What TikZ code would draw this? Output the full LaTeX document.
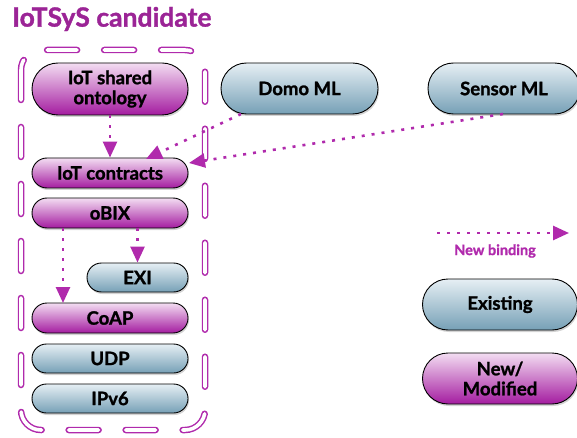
\documentclass[tikz,border=0pt]{standalone}
\usepackage{fontspec}
\setmainfont{Lato}[BoldFeatures={FakeBold=1.3}]
\usetikzlibrary{shapes.misc,shadows,arrows.meta}
\definecolor{pur}{HTML}{B02AAC}
\definecolor{title}{HTML}{9B2496}
\definecolor{ptop}{HTML}{F3DDF2}
\definecolor{pbot}{HTML}{A41CA0}
\definecolor{btop}{HTML}{E6EFF4}
\definecolor{bbot}{HTML}{76A0B6}
\tikzset{
  box/.style={rounded rectangle, draw=black, line width=0.9pt, font=\bfseries\fontsize{18.5}{20}\selectfont,
    align=center, inner sep=0pt, drop shadow={opacity=0.35, shadow xshift=1pt, shadow yshift=-2pt}},
  newbox/.style={box, top color=ptop, bottom color=pbot},
  oldbox/.style={box, top color=btop, bottom color=bbot},
  bind/.style={draw=pur, line width=2.6pt, dash pattern=on 3pt off 7pt,
    -{Triangle[length=16pt,width=14pt]}},
  frame/.style={draw=pur, line width=6.5pt, line cap=round, rounded corners=20pt,
    dash pattern=on 30pt off 27pt},
  frameinner/.style={draw=white, line width=3.6pt, line cap=round, rounded corners=20pt,
    dash pattern=on 30pt off 27pt}
}
\begin{document}
\begin{tikzpicture}[x=1pt,y=-1pt]
\useasboundingbox (0,0) rectangle (577,438);
% frame
\draw[frame] (21,50) rectangle (205,430);
\draw[frameinner] (21,50) rectangle (205,430);
% title
\node[anchor=west, text=title, font=\bfseries\fontsize{26.5}{28}\selectfont, inner sep=0pt] (title) at (12,19) {IoTSyS candidate};
% nodes
\node[newbox, minimum width=156pt, minimum height=52pt] (onto) at (110,89) {IoT shared\\ontology};
\node[oldbox, minimum width=157pt, minimum height=51pt] (domo) at (299.5,88.5) {Domo ML};
\node[oldbox, minimum width=152pt, minimum height=51pt] (sensor) at (504,88.5) {Sensor ML};
\node[newbox, minimum width=156pt, minimum height=30pt] (contracts) at (110,173) {IoT contracts};
\node[newbox, minimum width=156pt, minimum height=30pt] (obix) at (110,213) {oBIX};
\node[oldbox, minimum width=101pt, minimum height=29pt] (exi) at (137.5,277.5) {EXI};
\node[newbox, minimum width=156pt, minimum height=30pt] (coap) at (110,318) {CoAP};
\node[oldbox, minimum width=156pt, minimum height=29pt] (udp) at (110,358.5) {UDP};
\node[oldbox, minimum width=156pt, minimum height=29pt] (ipv6) at (110,398.5) {IPv6};
\node[oldbox, minimum width=155pt, minimum height=51pt] (exist) at (500,304.5) {Existing};
\node[newbox, minimum width=155pt, minimum height=51pt] (newmod) at (500,378.5) {New/\\Modified};
% legend arrow
\coordinate (l1) at (437,233);
\coordinate (l2) at (569,233);
\draw[bind] (l1) -- (l2);
\node[text=pur, font=\fontsize{14.5}{16}\selectfont\bfseries, inner sep=0pt] (lbl) at (495,251) {New binding};
% binding end points
\coordinate (d0) at (241,114);
\coordinate (d1) at (146,159);
\coordinate (s0) at (503,114);
\coordinate (s1) at (189,163);
\coordinate (o0) at (63,228);
\coordinate (o1) at (63,303);
\coordinate (e0) at (137.5,228);
% bindings
\draw[bind] (onto.south) -- (contracts.north);
\draw[bind] (d0) -- (d1);
\draw[bind] (s0) -- (s1);
\draw[bind] (o0) -- (o1);
\draw[bind] (e0) -- (exi.north);
\end{tikzpicture}
\end{document}
